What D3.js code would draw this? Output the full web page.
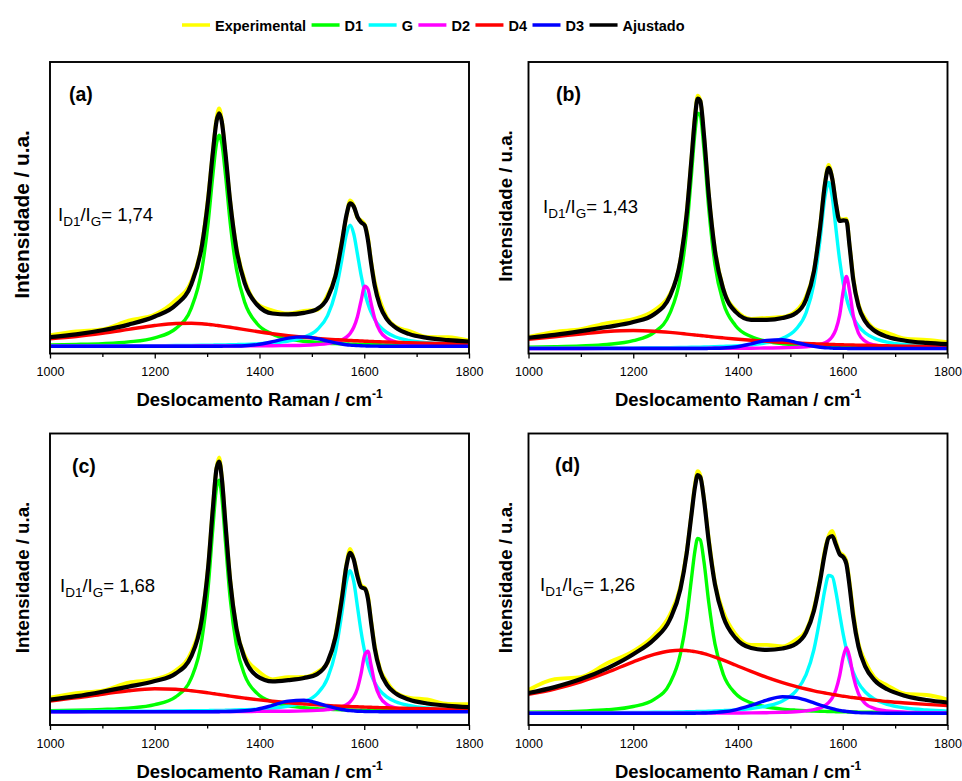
<!DOCTYPE html>
<html>
<head>
<meta charset="utf-8">
<script src="https://cdn.jsdelivr.net/npm/d3@7"></script>
<style>
  body { margin: 0; background: #fff; }
  svg { display: block; font-family: "Liberation Sans", Arial, Helvetica, sans-serif; }
</style>
</head>
<body>
<svg id="chart" width="962" height="781"></svg>
<script>
// Raman shift sampling (cm-1), shared by every spectrum below
const ramanShift = [1000,1050,1100,1150,1200,1240,1270,1290,1302,1311,1318,1323,1328,1335,1344,1356,1372,1395,1425,1455,1485,1510,1530,1545,1557,1566,1573,1580,1587,1594,1601,1607,1613,1620,1630,1643,1660,1685,1720,1760,1800];

const seriesNames = ["Experimental", "D1", "G", "D2", "D4", "D3", "Ajustado"];
const panelLetters = ["(a)", "(b)", "(c)", "(d)"];
const ratioValues = ["1,74", "1,43", "1,68", "1,26"];
const majorTicks = [1000, 1200, 1400, 1600, 1800];
const minorTicks = [1100, 1300, 1500, 1700];

// Sample (a) — intensity, a.u.
const expA = [18.3,22.1,24.2,32.9,39.0,53.4,72.6,109.7,157.0,202.3,235.4,245.2,233.8,199.0,152.7,106.2,73.1,50.0,43.0,40.1,42.6,43.5,58.7,78.5,112.1,137.2,153.1,147.9,135.7,133.2,128.9,116.6,92.8,71.8,52.8,36.4,26.8,22.6,16.6,16.3,13.0];
const d1A = [8.6,9.1,9.9,11.6,15.7,24.9,45.7,84.2,131.0,178.8,210.2,218.3,210.2,178.8,131.0,84.2,50.9,30.0,19.3,14.6,12.2,11.0,10.3,9.9,9.7,9.5,9.4,9.3,9.2,9.1,9.0,8.9,8.9,8.8,8.7,8.6,8.5,8.3,8.1,8.0,7.9];
const gA = [7.5,7.6,7.6,7.7,7.8,8.0,8.1,8.2,8.3,8.4,8.5,8.5,8.5,8.6,8.7,8.9,9.1,9.6,10.7,12.5,16.3,23.8,37.9,61.0,93.1,119.5,128.3,119.5,99.4,78.2,61.0,49.8,41.3,34.0,26.8,21.0,16.5,13.0,10.7,9.4,8.8];
const d2A = [7.3,7.4,7.4,7.4,7.4,7.4,7.4,7.5,7.5,7.5,7.5,7.5,7.5,7.5,7.5,7.5,7.6,7.6,7.8,8.0,8.3,9.0,9.9,11.4,13.5,16.4,20.1,26.3,36.8,52.9,67.3,64.5,50.4,35.0,22.4,15.3,11.5,9.4,8.4,7.9,7.7];
const d4A = [14.8,17.0,20.2,24.1,28.0,30.0,30.2,29.7,29.1,28.6,28.1,27.8,27.4,26.9,26.2,25.2,23.9,22.0,19.8,17.9,16.3,15.2,14.4,13.9,13.5,13.2,13.0,12.8,12.7,12.5,12.3,12.2,12.1,11.9,11.7,11.5,11.2,10.8,10.4,9.9,9.6];
const d3A = [7.3,7.3,7.3,7.3,7.3,7.3,7.3,7.3,7.3,7.3,7.3,7.3,7.3,7.4,7.4,7.5,7.8,8.9,11.8,15.4,16.6,14.8,12.4,10.6,9.5,8.8,8.4,8.1,7.9,7.7,7.6,7.5,7.4,7.4,7.3,7.3,7.3,7.3,7.3,7.3,7.3];
const fitA = [16.3,19.1,23.2,28.9,37.0,48.4,69.6,107.7,154.0,201.3,232.4,240.2,231.8,200.0,151.7,104.2,70.1,49.0,40.0,39.1,40.6,44.5,55.7,77.5,110.1,138.2,150.1,146.9,136.7,131.2,127.9,113.6,90.8,67.8,47.8,34.4,25.8,19.6,15.6,13.3,12.0];

// Sample (b)
const expB = [16.7,21.7,24.4,30.5,34.4,43.3,59.4,93.7,141.2,194.2,238.8,257.9,253.5,217.5,160.7,104.6,65.1,43.9,34.7,35.7,36.5,42.2,57.0,83.1,129.2,170.3,188.7,175.6,150.7,134.5,134.2,134.8,108.6,77.0,49.5,35.1,25.0,20.8,14.8,13.6,11.3];
const d1B = [6.2,6.7,7.5,9.0,12.8,21.2,40.3,76.5,123.5,177.9,221.9,240.2,238.0,204.3,145.9,89.1,50.8,28.1,16.9,12.2,9.8,8.6,8.0,7.6,7.3,7.1,7.0,6.9,6.8,6.7,6.6,6.6,6.5,6.4,6.3,6.2,6.1,6.0,5.8,5.7,5.6];
const gB = [5.3,5.3,5.4,5.5,5.6,5.8,5.9,6.0,6.1,6.2,6.3,6.3,6.4,6.5,6.6,6.8,7.1,7.6,8.8,10.8,15.2,23.8,40.7,70.1,115.2,156.3,171.0,156.3,124.7,93.7,70.1,55.5,44.9,35.9,27.4,20.5,15.4,11.4,8.8,7.4,6.6];
const d2B = [5.0,5.0,5.0,5.1,5.1,5.1,5.1,5.1,5.1,5.1,5.1,5.1,5.1,5.1,5.2,5.2,5.2,5.2,5.3,5.5,5.7,6.1,6.7,7.6,8.9,10.7,13.0,16.9,24.1,38.1,62.6,77.0,62.6,38.1,20.4,12.2,8.5,6.7,5.8,5.4,5.3];
const d4B = [14.2,16.7,19.5,22.0,23.0,22.3,21.1,20.1,19.4,18.9,18.5,18.2,18.0,17.6,17.1,16.4,15.6,14.5,13.2,12.1,11.1,10.5,10.0,9.7,9.5,9.3,9.2,9.1,8.9,8.8,8.7,8.6,8.6,8.5,8.3,8.2,8.0,7.7,7.4,7.1,6.9];
const d3B = [5.0,5.0,5.0,5.0,5.0,5.0,5.0,5.0,5.0,5.0,5.0,5.0,5.0,5.0,5.1,5.2,5.5,6.5,9.6,13.1,13.7,11.2,8.7,7.2,6.3,5.8,5.6,5.4,5.2,5.2,5.1,5.1,5.0,5.0,5.0,5.0,5.0,5.0,5.0,5.0,5.0];
const fitB = [15.7,18.7,22.4,26.5,31.4,39.3,57.4,92.7,139.2,193.2,236.8,254.9,252.5,218.5,159.7,102.6,64.1,41.9,33.7,33.7,35.5,40.2,54.0,82.1,127.2,169.3,185.7,174.6,149.7,132.5,133.2,132.8,107.6,74.0,47.5,32.1,23.0,16.8,12.8,10.6,9.3];

// Sample (c)
const expC = [27.3,31.8,34.3,42.4,45.9,54.5,73.2,108.3,158.7,218.6,257.5,267.5,248.9,201.1,146.1,97.5,69.2,55.1,45.7,47.9,48.0,52.9,62.1,89.7,128.4,161.0,176.2,166.4,151.7,139.8,137.3,129.6,104.9,79.7,56.5,43.4,32.6,27.5,25.5,21.2,20.9];
const d1C = [14.3,14.7,15.5,16.9,20.3,28.2,47.2,85.4,137.6,197.2,237.5,244.8,228.5,183.2,126.6,79.5,49.5,31.8,23.0,19.2,17.3,16.3,15.8,15.4,15.2,15.1,15.0,14.9,14.8,14.7,14.7,14.6,14.6,14.5,14.4,14.3,14.2,14.1,14.0,13.9,13.8];
const gC = [13.6,13.6,13.7,13.8,13.9,14.0,14.2,14.3,14.4,14.5,14.5,14.6,14.6,14.7,14.8,15.0,15.3,15.8,16.9,18.9,23.1,31.2,46.8,73.0,110.9,143.3,154.3,143.3,118.5,93.2,73.0,60.2,50.6,42.5,34.5,28.1,23.3,19.5,17.0,15.6,14.9];
const d2C = [13.3,13.3,13.4,13.4,13.4,13.4,13.4,13.4,13.4,13.4,13.5,13.5,13.5,13.5,13.5,13.5,13.5,13.6,13.7,13.8,14.1,14.6,15.4,16.5,18.1,20.3,23.2,28.0,36.6,51.5,70.3,73.8,59.8,42.0,28.0,20.7,17.1,15.1,14.2,13.8,13.6];
const d4C = [24.0,27.1,30.8,34.3,36.2,35.8,34.3,33.0,32.1,31.4,30.9,30.5,30.1,29.6,28.9,28.0,26.9,25.4,23.7,22.2,21.0,20.1,19.5,19.1,18.8,18.6,18.5,18.3,18.2,18.0,17.9,17.8,17.7,17.5,17.4,17.2,16.9,16.6,16.2,15.9,15.6];
const d3C = [13.3,13.3,13.3,13.3,13.3,13.3,13.3,13.3,13.3,13.3,13.3,13.3,13.4,13.4,13.5,13.7,14.2,15.7,19.6,23.9,24.7,22.0,18.8,16.8,15.5,14.8,14.4,14.1,13.8,13.7,13.5,13.5,13.4,13.4,13.3,13.3,13.3,13.3,13.3,13.3,13.3];
const fitC = [25.3,28.8,33.3,38.4,43.9,51.5,69.2,106.3,157.7,216.6,256.5,263.5,246.9,201.1,144.1,96.5,66.2,49.1,43.7,44.9,47.0,50.9,63.1,87.7,125.4,159.0,172.2,165.4,148.7,137.8,136.3,126.6,102.9,76.7,54.5,40.4,31.6,25.5,21.5,19.2,17.9];

// Sample (d)
const expD = [35.0,45.9,47.9,61.7,73.8,89.7,110.5,138.7,173.5,210.8,241.5,253.8,250.0,226.5,187.3,142.6,113.1,91.1,80.0,80.1,78.5,84.9,94.7,117.3,147.0,175.3,189.1,194.0,183.2,172.9,169.8,164.0,143.1,113.4,81.5,63.4,48.2,39.7,31.1,30.0,25.5];
const d1D = [12.7,13.1,13.9,15.2,18.5,25.7,41.8,71.2,107.0,145.7,174.9,186.6,185.2,163.4,123.3,81.1,50.5,31.6,22.1,18.0,15.9,14.9,14.3,13.9,13.7,13.6,13.5,13.4,13.3,13.2,13.1,13.1,13.0,13.0,12.9,12.8,12.7,12.5,12.4,12.3,12.2];
const gD = [12.0,12.1,12.2,12.3,12.5,12.7,12.9,13.1,13.2,13.3,13.4,13.5,13.5,13.6,13.8,14.0,14.4,15.1,16.5,19.0,24.1,33.6,50.3,75.5,108.1,135.7,149.5,148.3,132.9,111.3,90.4,75.5,63.6,52.9,42.0,33.0,26.1,20.6,17.0,15.0,13.9];
const d2D = [11.7,11.8,11.8,11.8,11.8,11.8,11.8,11.9,11.9,11.9,11.9,11.9,11.9,11.9,11.9,11.9,12.0,12.0,12.1,12.3,12.7,13.2,14.1,15.3,17.1,19.4,22.4,27.2,35.3,49.2,68.3,77.3,68.3,49.2,31.3,21.4,16.6,14.0,12.8,12.3,12.1];
const d4D = [30.6,36.0,43.2,52.5,63.2,70.6,74.0,74.7,74.5,73.9,73.4,72.9,72.3,71.4,70.0,67.9,64.8,60.0,53.6,47.6,42.4,38.6,36.0,34.2,32.9,32.0,31.3,30.6,30.0,29.4,28.8,28.4,27.9,27.4,26.7,25.9,24.9,23.5,22.0,20.6,19.4];
const d3D = [11.7,11.7,11.7,11.7,11.7,11.7,11.7,11.7,11.7,11.8,11.8,11.9,11.9,12.0,12.1,12.5,13.2,15.2,19.6,24.9,28.2,27.4,24.8,22.1,20.0,18.4,17.3,16.3,15.4,14.7,14.0,13.6,13.2,12.8,12.4,12.1,11.9,11.7,11.7,11.7,11.7];
const fitD = [32.0,37.9,45.9,56.7,70.8,85.7,105.5,135.7,171.5,209.8,238.5,249.8,248.0,225.5,184.3,140.6,108.1,87.1,77.0,75.1,76.5,80.9,92.7,114.3,145.0,172.3,187.1,189.0,180.2,170.9,167.8,161.0,139.1,108.4,78.5,58.4,45.2,35.7,29.1,25.0,22.5];

// ---------------------------------------------------------------------------
const spectra = [
  [expA, d1A, gA, d2A, d4A, d3A, fitA],
  [expB, d1B, gB, d2B, d4B, d3B, fitB],
  [expC, d1C, gC, d2C, d4C, d3C, fitC],
  [expD, d1D, gD, d2D, d4D, d3D, fitD]
];

const lineColors = ["#ffff00", "#00ff00", "#00ffff", "#ff00ff", "#ff0000", "#0000ff", "#000000"];
const lineWidths = [3.8, 3.4, 3.4, 3.4, 3.4, 3.4, 4.2];

const frameW = 419, frameH = 291.5;
const layout = [
  { x0: 50,    y0: 62,    letter: [69, 101],   ratio: [58, 220.5],  yTitle: { x: 28.5,  cy: 214.5, size: 20.8 } },
  { x0: 528.5, y0: 62,    letter: [556, 101],  ratio: [543, 212.5], yTitle: { x: 511.5, cy: 206,   size: 18.7 } },
  { x0: 50,    y0: 433.5, letter: [72, 472.5], ratio: [60, 591.5],  yTitle: { x: 28.5,  cy: 577.5, size: 18.7 } },
  { x0: 528.5, y0: 433.5, letter: [555, 472],  ratio: [540, 590.5], yTitle: { x: 511.5, cy: 577.5, size: 18.7 } }
];

const svg = d3.select("#chart");

const x = d3.scaleLinear().domain([1000, 1800]).range([0, frameW]);
const y = d3.scaleLinear().domain([0, 291.5]).range([frameH, 0]);

const line = d3.line()
  .x((d, i) => x(ramanShift[i]))
  .y(d => y(d))
  .curve(d3.curveMonotoneX);

layout.forEach((L, p) => {
  const g = svg.append("g").attr("transform", `translate(${L.x0},${L.y0})`);

  const clipId = "clip-" + p;
  g.append("clipPath").attr("id", clipId)
    .append("rect").attr("x", 0).attr("y", 0).attr("width", frameW).attr("height", frameH);

  const plot = g.append("g").attr("clip-path", `url(#${clipId})`);
  spectra[p].forEach((vals, s) => {
    plot.append("path")
      .datum(vals)
      .attr("fill", "none")
      .attr("stroke", lineColors[s])
      .attr("stroke-width", lineWidths[s])
      .attr("stroke-linejoin", "round")
      .attr("stroke-linecap", "round")
      .attr("d", line);
  });

  // bottom axis: labelled major ticks and unlabelled minor ticks
  const axMajor = g.append("g").attr("transform", `translate(0,${frameH})`)
    .call(d3.axisBottom(x).tickValues(majorTicks).tickSize(5).tickPadding(9).tickFormat(d3.format("d")));
  const axMinor = g.append("g").attr("transform", `translate(0,${frameH})`)
    .call(d3.axisBottom(x).tickValues(minorTicks).tickSize(3.5).tickFormat(""));
  [axMajor, axMinor].forEach(a => {
    a.select(".domain").remove();
    a.selectAll("line").attr("stroke", "#000").attr("stroke-width", 1.3);
    a.selectAll("text").attr("font-size", 12.5).attr("fill", "#000")
      .attr("font-family", "'Liberation Sans', Arial, sans-serif");
  });

  g.append("rect")
    .attr("x", 0).attr("y", 0).attr("width", frameW).attr("height", frameH)
    .attr("fill", "none").attr("stroke", "#000").attr("stroke-width", 1.9);

  // panel letter
  svg.append("text")
    .attr("x", L.letter[0]).attr("y", L.letter[1])
    .attr("font-size", 19.5).attr("font-weight", "bold")
    .text(panelLetters[p]);

  // band intensity ratio
  const rt = svg.append("text")
    .attr("x", L.ratio[0]).attr("y", L.ratio[1])
    .attr("font-size", 18.5);
  rt.append("tspan").text("I");
  rt.append("tspan").attr("font-size", 13.5).attr("dy", 5).text("D1");
  rt.append("tspan").attr("dy", -5).text("/I");
  rt.append("tspan").attr("font-size", 13.5).attr("dy", 5).text("G");
  rt.append("tspan").attr("dy", -5).text("= " + ratioValues[p]);

  // x title
  const xt = svg.append("text")
    .attr("x", L.x0 + frameW / 2).attr("y", L.y0 + frameH + 52.5)
    .attr("text-anchor", "middle")
    .attr("font-size", 18.5).attr("font-weight", "bold");
  xt.append("tspan").text("Deslocamento Raman / cm");
  xt.append("tspan").attr("font-size", 12).attr("dy", -8).text("-1");

  // y title
  svg.append("text")
    .attr("transform", `translate(${L.yTitle.x},${L.yTitle.cy}) rotate(-90)`)
    .attr("text-anchor", "middle")
    .attr("font-size", L.yTitle.size).attr("font-weight", "bold")
    .text("Intensidade / u.a.");
});

// legend across the top
const legend = svg.append("g").attr("transform", "translate(182,25)");
let cx = 0;
seriesNames.forEach((name, s) => {
  legend.append("line")
    .attr("x1", cx).attr("x2", cx + 28).attr("y1", 0).attr("y2", 0)
    .attr("stroke", lineColors[s]).attr("stroke-width", 3.5);
  const t = legend.append("text")
    .attr("x", cx + 33).attr("y", 5.5)
    .attr("font-size", 14.5).attr("font-weight", "bold")
    .text(name);
  cx += 33 + t.node().getComputedTextLength() + 5.5;
});
</script>
</body>
</html>
